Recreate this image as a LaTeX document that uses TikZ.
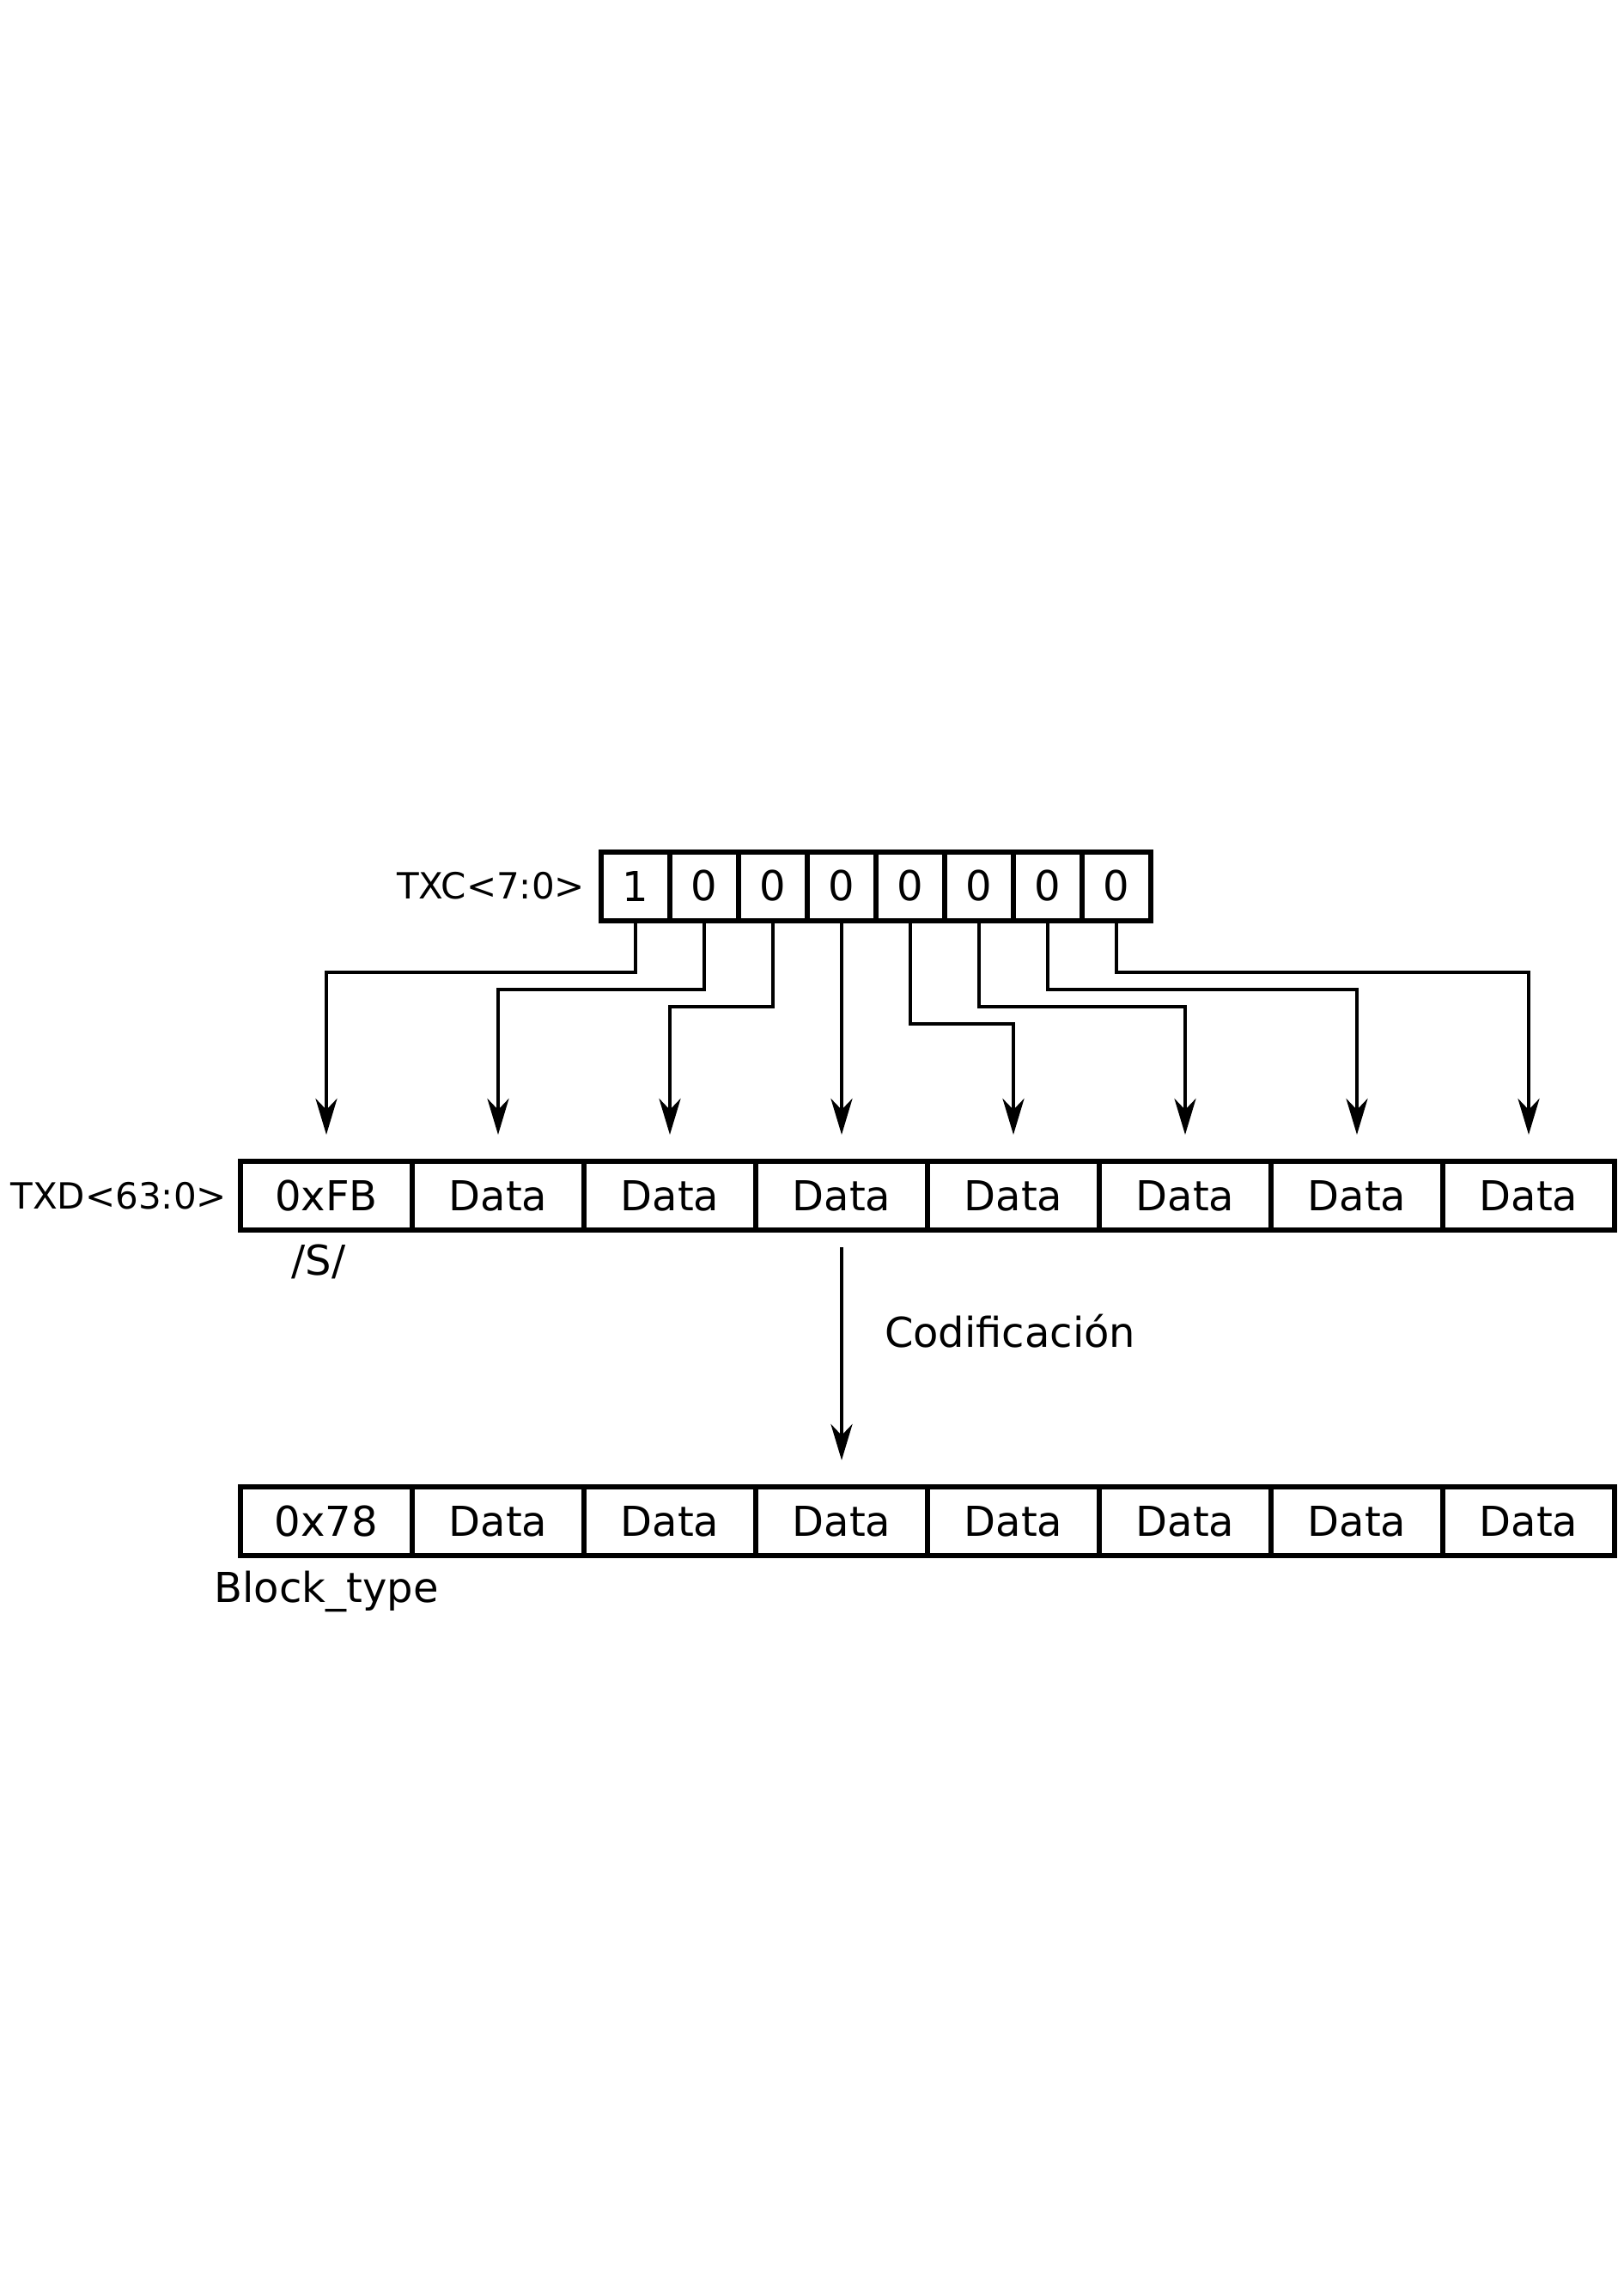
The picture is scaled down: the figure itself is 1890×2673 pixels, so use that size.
\documentclass[tikz,border=0pt]{standalone}
\usepackage{fontspec}
\setmainfont{DejaVu Sans}
\usetikzlibrary{arrows.meta,calc}
\begin{document}
\begin{tikzpicture}[x=1pt,y=-1pt,
  bigtxt/.style={font=\fontsize{48}{56}\selectfont},
  smalltxt/.style={font=\fontsize{42}{50}\selectfont},
  bitcell/.style={draw,line width=6pt,minimum width=80pt,minimum height=80pt,inner sep=0pt,outer sep=0pt,bigtxt},
  bytecell/.style={draw,line width=6pt,minimum width=200pt,minimum height=80pt,inner sep=0pt,outer sep=0pt,bigtxt},
  conn/.style={line width=4.5pt,line join=miter},
  arr/.style={conn,-{Stealth[length=42pt,width=25pt,inset=13pt]}},
  lbl/.style={inner sep=0pt,outer sep=0pt}
]
\useasboundingbox (0,0) rectangle (1890,2673);
\fill[white] (0,0) rectangle (1890,2673);

% TXC bits
\foreach \i/\v in {0/1,1/0,2/0,3/0,4/0,5/0,6/0,7/0}{
  \node[bitcell] (c\i) at ({740+80*\i},1031.5) {\v};
}
% TXD bytes
\node[bytecell] (d0) at (380,1392) {0xFB\hspace{12pt}};
\foreach \i in {1,...,7}{
  \node[bytecell] (d\i) at ({380+200*\i},1392) {Data};
}
% encoded block
\node[bytecell] (e0) at (380,1771) {0x78};
\foreach \i in {1,...,7}{
  \node[bytecell] (e\i) at ({380+200*\i},1771) {Data};
}

% labels
\node[lbl,smalltxt,anchor=east] (txc) at ($(c0.west)+(-19,0)$) {TXC<7:0>};
\node[lbl,smalltxt,anchor=east] (txd) at ($(d0.west)+(-16,0)$) {TXD<63:0>};
\node[lbl,bigtxt,anchor=base] (sl) at (371,1484) {/S/};
\node[lbl,bigtxt,anchor=base] (bt) at (380,1865) {Block\_type};
\node[lbl,bigtxt,anchor=base west] (cod) at (1030,1568) {Codificación};

% arrow tips
\foreach \i in {0,...,7}{
  \coordinate (a\i) at ($(d\i.north)+(0,-31)$);
}
% routing levels
\coordinate (h0) at (0,1132);
\coordinate (h1) at (0,1152);
\coordinate (h2) at (0,1172);
\coordinate (h4) at (0,1192);

\draw[arr] (c0.south) -- (c0.south |- h0) -| (a0);
\draw[arr] (c1.south) -- (c1.south |- h1) -| (a1);
\draw[arr] (c2.south) -- (c2.south |- h2) -| (a2);
\draw[arr] (c3.south) -- (a3);
\draw[arr] (c4.south) -- (c4.south |- h4) -| (a4);
\draw[arr] (c5.south) -- (c5.south |- h2) -| (a5);
\draw[arr] (c6.south) -- (c6.south |- h1) -| (a6);
\draw[arr] (c7.south) -- (c7.south |- h0) -| (a7);

% encoding arrow
\coordinate (cs) at ($(d3.south)+(0,20)$);
\coordinate (ce) at ($(e3.north)+(0,-31)$);
\draw[arr] (cs) -- (ce);
\end{tikzpicture}
\end{document}
